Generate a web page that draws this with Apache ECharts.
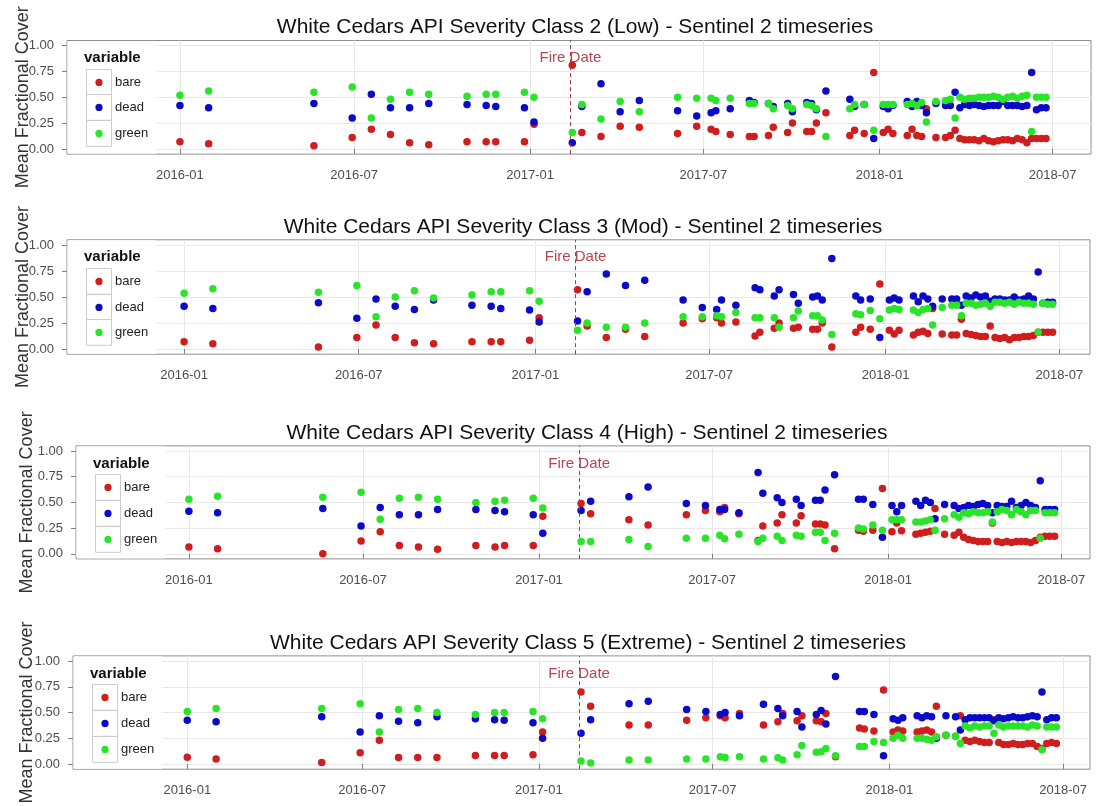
<!DOCTYPE html>
<html>
<head>
<meta charset="utf-8">
<script src="https://cdn.jsdelivr.net/npm/echarts@6/dist/echarts.min.js"></script>
<style>
  html, body { margin: 0; padding: 0; background: #ffffff; }
  #chart { width: 1099px; height: 806px; }
</style>
</head>
<body>
<div id="chart"></div>
<script>
// Sentinel 2 acquisition dates shared by all four severity classes
const obsDates = [
  '2016-01-01','2016-01-31','2016-05-20','2016-06-29','2016-07-19','2016-08-08','2016-08-28','2016-09-17',
  '2016-10-27','2016-11-16','2016-11-26','2016-12-26','2017-01-05',
  '2017-02-14','2017-02-24','2017-03-16','2017-04-05','2017-04-25','2017-06-04','2017-06-24','2017-07-09',
  '2017-07-14','2017-07-29','2017-08-18','2017-08-23','2017-09-07','2017-09-12','2017-09-27','2017-10-02',
  '2017-10-17','2017-10-22','2017-10-27','2017-11-06','2017-12-01','2017-12-06','2017-12-16','2017-12-26',
  '2018-01-05','2018-01-10','2018-01-15','2018-01-30','2018-02-04','2018-02-09','2018-02-14','2018-02-19',
  '2018-03-01','2018-03-11','2018-03-16','2018-03-21',
  '2018-03-26','2018-03-31','2018-04-05','2018-04-10','2018-04-15','2018-04-20','2018-04-25','2018-04-30',
  '2018-05-05','2018-05-10','2018-05-15','2018-05-20','2018-05-25','2018-05-30','2018-06-04','2018-06-09',
  '2018-06-14','2018-06-19','2018-06-24'
];

// Class 2 (Low)
const lowBare = [.07,.05,.03,.11,.19,.14,.06,.04,.07,.07,.07,.07,.24,
  .81,.16,.12,.22,.21,.15,.22,.19,.17,.14,.12,.12,.13,.21,.16,.25,.17,.17,.25,.35,.13,.18,.15,.74,.16,.19,.15,.13,.19,.13,.12,.39,.11,.11,.13,.18,
  .10,.09,.09,.09,.08,.10,.08,.07,.08,.09,.09,.08,.10,.09,.06,.10,.10,.10,.10];
const lowDead = [.42,.40,.44,.30,.53,.40,.40,.44,.43,.42,.41,.40,.26,
  .06,.41,.63,.36,.47,.37,.32,.35,.37,.39,.47,.45,.44,.41,.44,.36,.45,.44,.38,.56,.48,.41,.43,.10,.41,.39,.42,.46,.41,.46,.42,.35,.44,.42,.42,.55,
  .40,.43,.42,.43,.42,.41,.42,.42,.42,.46,.42,.42,.42,.41,.42,.74,.38,.40,.40];
const lowGreen = [.52,.56,.55,.60,.30,.48,.55,.53,.51,.53,.53,.55,.50,
  .16,.43,.29,.46,.36,.50,.49,.49,.47,.49,.44,.44,.44,.39,.42,.39,.43,.42,.39,.12,.39,.43,.43,.18,.43,.43,.43,.43,.44,.42,.45,.26,.46,.47,.48,.30,
  .50,.48,.49,.49,.50,.50,.50,.51,.50,.48,.50,.51,.49,.51,.52,.17,.50,.50,.50];

// Class 3 (Mod)
const modBare = [.07,.05,.02,.11,.23,.11,.06,.05,.07,.07,.07,.085,.30,
  .57,.22,.11,.19,.12,.25,.29,.30,.25,.26,.125,.16,.20,.25,.20,.21,.19,.19,.25,.02,.16,.21,.19,.625,.18,.145,.18,.135,.16,.17,.15,.39,.145,.135,.135,.285,
  .15,.14,.13,.12,.12,.22,.11,.10,.11,.09,.11,.11,.12,.12,.13,.16,.16,.16,.16];
const modDead = [.41,.39,.445,.295,.48,.41,.38,.47,.42,.41,.39,.375,.26,
  .27,.55,.72,.61,.66,.47,.40,.38,.47,.42,.59,.57,.51,.57,.525,.44,.50,.51,.47,.87,.51,.47,.48,.11,.47,.49,.47,.51,.455,.51,.48,.41,.48,.48,.48,.42,
  .51,.49,.52,.50,.51,.46,.48,.48,.47,.47,.50,.47,.48,.51,.48,.74,.44,.45,.45];
const modGreen = [.535,.58,.545,.61,.31,.50,.56,.49,.52,.55,.55,.56,.46,
  .18,.25,.21,.21,.25,.31,.31,.32,.31,.35,.30,.30,.30,.21,.30,.365,.32,.32,.28,.14,.34,.33,.37,.29,.375,.39,.38,.375,.35,.38,.39,.23,.40,.42,.42,.32,
  .44,.44,.42,.43,.44,.41,.45,.45,.44,.45,.43,.45,.44,.44,.43,.16,.44,.43,.43];

// Class 4 (High)
const highBare = [.065,.05,.00,.125,.215,.08,.065,.045,.08,.065,.08,.08,.365,
  .49,.39,null,.33,.28,.38,.42,.41,.45,.39,.13,.27,.30,.38,.30,.37,.29,.29,.28,.05,.23,.22,.23,.635,.215,.30,.225,.19,.20,.21,.22,.44,.19,.18,.21,.16,
  .14,.13,.12,.12,.12,.30,.12,.11,.12,.11,.12,.12,.12,.11,.13,.16,.17,.17,.17];
const highDead = [.415,.40,.44,.27,.45,.38,.38,.43,.43,.42,.41,.38,.20,
  .42,.51,null,.555,.65,.49,.47,.43,.43,.40,.79,.59,.545,.50,.53,.47,.52,.52,.62,.77,.53,.53,.48,.16,.47,.41,.47,.51,.47,.52,.50,.34,.48,.47,.44,.45,
  .47,.46,.48,.49,.47,.40,.47,.46,.46,.51,.45,.47,.50,.47,.45,.71,.43,.43,.43];
const highGreen = [.53,.56,.55,.60,.335,.54,.55,.53,.50,.51,.52,.54,.445,
  .12,.12,null,.14,.07,.15,.15,.18,.145,.19,.12,.15,.17,.13,.18,.17,.21,.21,.13,.20,.25,.24,.28,.23,.33,.33,.33,.31,.31,.32,.33,.23,.34,.38,.355,.40,
  .39,.41,.40,.40,.41,.31,.41,.43,.42,.38,.43,.41,.38,.42,.42,.15,.40,.40,.40];

// Class 5 (Extreme)
const extBare = [.067,.05,.016,.11,.23,.064,.064,.064,.083,.083,.083,.09,.31,
  .70,.56,null,.38,.38,.425,.45,.47,.45,.49,null,.38,.41,.49,.42,.47,.42,.41,.49,.07,.35,.34,.32,.72,.31,.33,.32,.31,.32,.33,.31,.56,.28,.27,.47,.23,
  .22,.23,.22,.21,.21,.43,.21,.19,.19,.20,.19,.19,.20,.20,.17,.15,.20,.21,.20];
const extDead = [.425,.41,.46,.31,.47,.415,.40,.46,.44,.43,.425,.40,.25,
  .30,.43,null,.585,.61,.53,.51,.48,.50,.47,null,.58,.54,.47,.51,.36,.48,.52,.39,.85,.51,.51,.48,.08,.44,.425,.45,.47,.45,.47,.46,.25,.47,.46,.33,.43,
  .45,.45,.45,.45,.45,.42,.45,.44,.45,.46,.45,.45,.46,.47,.46,.70,.43,.45,.45];
const extGreen = [.51,.54,.54,.585,.31,.53,.54,.50,.48,.50,.50,.51,.44,
  .03,.01,null,.04,.04,.05,.05,.07,.064,.07,null,.05,.06,.04,.09,.18,.115,.12,.15,.08,.17,.17,.22,.21,.25,.28,.25,.25,.25,.24,.23,.265,.28,.27,.20,.37,
  .35,.37,.36,.37,.37,.30,.38,.36,.37,.37,.37,.37,.36,.38,.37,.14,.36,.36,.36];

const panelTitles = [
  'White Cedars API Severity Class 2 (Low) - Sentinel 2 timeseries',
  'White Cedars API Severity Class 3 (Mod) - Sentinel 2 timeseries',
  'White Cedars API Severity Class 4 (High) - Sentinel 2 timeseries',
  'White Cedars API Severity Class 5 (Extreme) - Sentinel 2 timeseries'
];
const seriesNames = ['bare', 'dead', 'green'];
const xTickLabels = ['2016-01', '2016-07', '2017-01', '2017-07', '2018-01', '2018-07'];
const yTickLabels = ['0.00', '0.25', '0.50', '0.75', '1.00'];
const fireDate = '2017-02-12';
const fireLabel = 'Fire Date';
const yAxisTitle = 'Mean Fractional Cover';
const legendTitle = 'variable';

// ---- styling and layout ----
const FONT = '"Liberation Sans", Arial, Helvetica, sans-serif';
const seriesColors = ['#d01d1d', '#0a0ac8', '#2ae42a'];
const fireColor = '#a83a45';

// each panel: plot box in pixels, its visible date window, and where its titles sit
const panelLayout = [
  { left: 67, right: 1091, top: 40.5,  height: 113.6, xMin: '2015-09-05', xMax: '2018-08-10', yTitleX: 23, titleX: 575 },
  { left: 67, right: 1090, top: 239.8, height: 114.4, xMin: '2015-09-01', xMax: '2018-08-02', yTitleX: 23, titleX: 583 },
  { left: 76, right: 1090, top: 445.9, height: 113.0, xMin: '2015-09-05', xMax: '2018-07-31', yTitleX: 27, titleX: 587 },
  { left: 73, right: 1090, top: 655.9, height: 113.3, xMin: '2015-09-04', xMax: '2018-07-29', yTitleX: 27, titleX: 588 }
];

const panelValues = [
  [lowBare, lowDead, lowGreen],
  [modBare, modDead, modGreen],
  [highBare, highDead, highGreen],
  [extBare, extDead, extGreen]
];

// dates become UTC millisecond values on a linear axis
function toTime(s) {
  const p = s.split('-').map(Number);
  return Date.UTC(p[0], p[1] - 1, p[2] || 1);
}
const xTickValues = xTickLabels.map(l => toTime(l + '-01'));
const yTickValues = yTickLabels.map(Number);
const fireTime = toTime(fireDate);

function nearestLabel(values, labels, v) {
  let best = 0;
  values.forEach((t, k) => { if (Math.abs(t - v) < Math.abs(values[best] - v)) best = k; });
  return labels[best];
}

const grid = [], xAxis = [], yAxis = [], series = [];

panelLayout.forEach((p, i) => {
  grid.push({
    left: p.left, top: p.top, width: p.right - p.left, height: p.height,
    show: true, backgroundColor: '#ffffff', borderColor: '#8f8f8f', borderWidth: 1,
    containLabel: false, outerBoundsMode: 'none'
  });
  xAxis.push({
    type: 'value', gridIndex: i, scale: true,
    min: toTime(p.xMin), max: toTime(p.xMax),
    axisLine: { show: false },
    axisTick: { show: true, length: 5, customValues: xTickValues, lineStyle: { color: '#7f7f7f' } },
    axisLabel: {
      customValues: xTickValues, margin: 15, color: '#4d4d4d', fontSize: 13, fontFamily: FONT,
      formatter: v => nearestLabel(xTickValues, xTickLabels, v)
    },
    splitLine: { show: true, lineStyle: { color: '#e8e8e8', width: 1 } }
  });
  yAxis.push({
    type: 'value', gridIndex: i, min: -0.05, max: 1.05,
    axisLine: { show: false },
    axisTick: { show: true, length: 5, customValues: yTickValues, lineStyle: { color: '#7f7f7f' } },
    axisLabel: {
      customValues: yTickValues, margin: 13, color: '#4d4d4d', fontSize: 13, fontFamily: FONT,
      formatter: v => nearestLabel(yTickValues, yTickLabels, v)
    },
    splitLine: { show: true, lineStyle: { color: '#e8e8e8', width: 1 } }
  });
  seriesNames.forEach((name, k) => {
    const vals = panelValues[i][k];
    const data = [];
    obsDates.forEach((d, j) => { if (vals[j] != null) data.push([toTime(d), vals[j]]); });
    const s = {
      type: 'scatter', name, xAxisIndex: i, yAxisIndex: i, data,
      symbol: 'circle', symbolSize: 7.5,
      itemStyle: { color: seriesColors[k], opacity: 1 },
      z: 3 + k, silent: true
    };
    if (k === 0) {
      s.markLine = {
        silent: true, symbol: ['none', 'none'], animation: false,
        label: { show: false },
        lineStyle: { color: fireColor, type: [4, 3], width: 1 },
        data: [{ xAxis: fireTime }]
      };
    }
    series.push(s);
  });
});

const chart = echarts.init(document.getElementById('chart'), null, { renderer: 'canvas' });
chart.setOption({
  animation: false,
  backgroundColor: '#ffffff',
  grid, xAxis, yAxis, series
});

// titles, axis titles, fire labels and per-panel legends
const graphic = [];
function txt(x, y, text, font, fill, align, extra) {
  return Object.assign({
    type: 'text', x, y, z: 20, silent: true,
    style: { text, font, fill, align, verticalAlign: 'middle', textAlign: align, textVerticalAlign: 'middle' }
  }, extra || {});
}
panelLayout.forEach((p, i) => {
  graphic.push(txt(p.titleX, p.top - 13, panelTitles[i], '21px ' + FONT, '#111111', 'center'));
  graphic.push(txt(p.yTitleX, p.top + p.height / 2, yAxisTitle, '18px ' + FONT, '#333333', 'center', { rotation: Math.PI / 2 }));

  const fx = chart.convertToPixel({ xAxisIndex: i }, fireTime);
  graphic.push(txt(fx, p.top + 17.5, fireLabel, '15px ' + FONT, '#b8454e', 'center'));

  // legend block: white backing, title, keyed rows
  graphic.push({ type: 'rect', z: 15, silent: true,
    shape: { x: p.left + 1, y: p.top + 1, width: 88, height: p.height - 2 },
    style: { fill: '#ffffff', stroke: '#ffffff', lineWidth: 1 } });
  graphic.push(txt(p.left + 17, p.top + 17.5, legendTitle, 'bold 15px ' + FONT, '#111111', 'left'));
  const rowH = 25.8, boxTop = p.top + 28;
  seriesNames.forEach((name, k) => {
    const y0 = Math.round(boxTop + k * rowH) + 0.5;
    graphic.push({ type: 'rect', z: 16, silent: true,
      shape: { x: p.left + 19.5, y: y0, width: 25, height: rowH },
      style: { fill: '#ffffff', stroke: '#cccccc', lineWidth: 1 } });
    graphic.push({ type: 'circle', z: 17, silent: true,
      shape: { cx: p.left + 32, cy: y0 + rowH / 2, r: 3.6 },
      style: { fill: seriesColors[k] } });
    graphic.push(txt(p.left + 48, y0 + rowH / 2, name, '13px ' + FONT, '#222222', 'left'));
  });
});
chart.setOption({ graphic });
</script>
</body>
</html>
